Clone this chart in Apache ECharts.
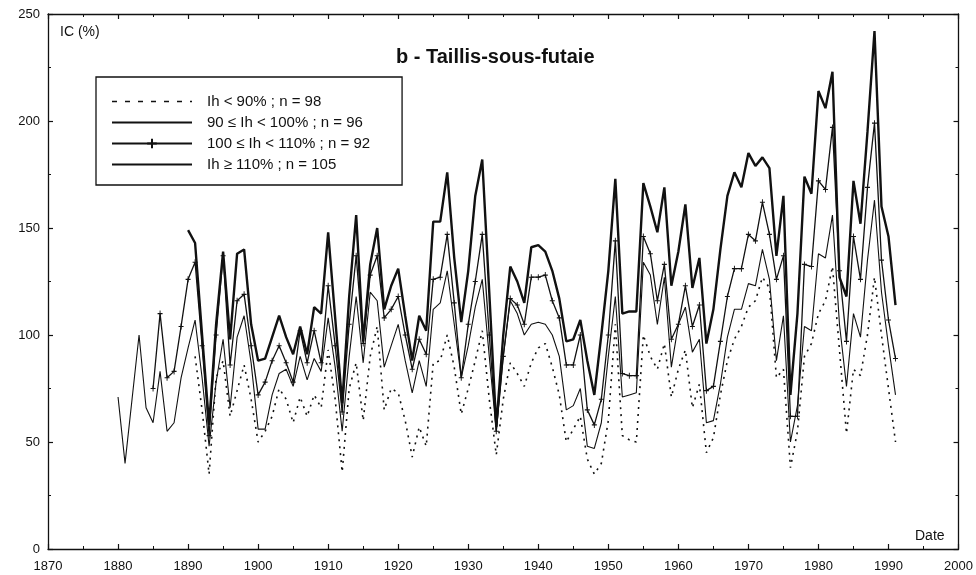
<!DOCTYPE html>
<html>
<head>
<meta charset="utf-8">
<script src="https://cdn.jsdelivr.net/npm/echarts@6/dist/echarts.min.js"></script>
<style>
html,body{margin:0;padding:0;background:#fff;}
#c{width:976px;height:575px;}
</style>
</head>
<body>
<div id="c"></div>
<script>
// Ih < 90% ; n = 98 (dotted) — from 1891
const startD = 1891;
const valuesD = [90,65,35,80,88,62,74,86,70,
 50,55,62,75,70,59,71,62,72,66,
 93,70,36,75,87,60,90,104,65,75,
 73,60,43,57,48,87,88,100,85,63,
 75,88,102,70,44,70,87,82,76,87,
 94,96,85,72,50,56,62,42,35,40,
 60,105,53,51,50,100,90,84,96,71,
 84,93,66,77,45,52,72,88,98,104,
 113,116,127,122,80,84,38,55,90,96,
 110,116,132,93,54,84,81,100,127,100,
 75,50];
// 90 ≤ Ih < 100% ; n = 96 (thin) — from 1880
const startS = 1880;
const valuesS = [71,40,70,100,66,59,83,55,59,80,
 94,107,80,48,78,98,66,99,109,87,
 56,56,72,82,84,76,90,79,89,83,
 108,85,55,90,118,87,120,116,85,95,
 105,88,73,88,76,112,115,130,105,80,
 95,113,126,90,55,90,116,110,100,105,
 106,105,100,90,65,67,75,48,47,59,
 90,118,71,72,73,134,128,105,127,85,
 105,113,92,98,59,60,77,99,112,112,
 124,123,140,126,88,109,50,67,104,102,
 138,136,156,105,76,110,99,135,163,120,
 95,72];
// 100 ≤ Ih < 110% ; n = 92 (with ticks) — from 1885
const startP = 1885;
const valuesP = [75,110,80,83,104,
 126,134,95,53,100,137,86,116,119,95,
 72,78,88,95,87,78,102,87,102,87,
 123,95,64,105,137,96,128,137,108,112,
 118,100,84,98,91,126,127,147,115,80,
 105,125,147,100,55,90,117,114,105,127,
 127,128,116,108,86,86,100,65,58,70,
 100,144,82,81,81,146,138,116,133,98,
 105,123,104,114,74,76,97,118,131,131,
 147,144,162,147,126,137,62,62,133,132,
 172,168,197,130,97,146,126,169,199,135,
 107,89];
// Ih ≥ 110% ; n = 105 (thick) — from 1890
const startT = 1890;
const valuesT = [149,143,100,58,105,139,98,138,140,105,
 88,89,99,109,99,91,104,91,113,110,
 148,108,68,118,156,97,133,150,112,123,
 131,109,88,109,102,153,153,176,136,106,
 130,165,182,120,57,100,132,125,115,141,
 142,139,130,117,97,98,107,88,72,100,
 130,173,110,111,111,171,160,148,169,123,
 139,161,122,136,96,112,140,165,176,169,
 185,179,183,178,137,165,72,110,174,166,
 214,206,223,127,118,172,152,195,242,160,
 146,114];

const seriesNames = ['Ih < 90% ; n = 98','90 ≤ Ih < 100% ; n = 96','100 ≤ Ih < 110% ; n = 92','Ih ≥ 110% ; n = 105'];
const xTicks = {min:1870, max:2000, step:10};
const yTicks = {min:0, max:250, step:50};

function pairs(start, vals){ return vals.map((v,i)=>[start+i, v]); }

const FONT = '"Liberation Sans", Arial, sans-serif';
const INK = '#111';
const HIDDEN = {color:'rgba(0,0,0,0)', borderColor:'rgba(0,0,0,0)', borderWidth:0};

const chart = echarts.init(document.getElementById('c'), null, {renderer:'canvas'});
const axisCommon = {
  axisLine:{show:true, onZero:false, lineStyle:{color:INK, width:1.3}},
  axisTick:{show:true, inside:true, length:5, lineStyle:{color:INK, width:1.2}},
  minorTick:{show:true, splitNumber:2, length:3, lineStyle:{color:INK, width:1}},
  splitLine:{show:false}
};
chart.setOption({
  animation:false,
  backgroundColor:'#fff',
  textStyle:{fontFamily:FONT},
  title:{
    text:'b - Taillis-sous-futaie',
    left:391, top:42,
    textStyle:{fontFamily:FONT, fontSize:20, fontWeight:'bold', color:INK}
  },
  grid:{left:48, right:15, top:14, bottom:26},
  legend:{
    orient:'vertical', left:96, top:77,
    data:[
      {name:seriesNames[0], lineStyle:{type:[5,8], width:1.3}},
      {name:seriesNames[1]},
      {name:seriesNames[2]},
      {name:seriesNames[3]}
    ],
    itemWidth:80, itemHeight:12, itemGap:6,
    padding:[17,32,13,15],
    borderColor:INK, borderWidth:1.3,
    backgroundColor:'#fff',
    selectedMode:false,
    textStyle:{fontFamily:FONT, fontSize:15, color:INK, padding:[0,0,0,10]}
  },
  xAxis:[
    Object.assign({type:'value', position:'bottom', min:xTicks.min, max:xTicks.max, interval:xTicks.step,
      axisLabel:{color:INK, fontSize:13, margin:11, fontFamily:FONT, formatter:(v)=>String(v)}}, axisCommon),
    Object.assign({type:'value', position:'top', min:xTicks.min, max:xTicks.max, interval:xTicks.step,
      axisLabel:{show:false}}, axisCommon)
  ],
  yAxis:[
    Object.assign({type:'value', position:'left', min:yTicks.min, max:yTicks.max, interval:yTicks.step,
      axisLabel:{color:INK, fontSize:13, margin:8, fontFamily:FONT, formatter:(v)=>String(v)}}, axisCommon),
    Object.assign({type:'value', position:'right', min:yTicks.min, max:yTicks.max, interval:yTicks.step,
      axisLabel:{show:false}}, axisCommon)
  ],
  graphic:[
    {type:'text', left:60, top:25, style:{text:'IC (%)', font:'14px '+FONT, fill:INK}},
    {type:'text', left:915, top:529, style:{text:'Date', font:'14px '+FONT, fill:INK}}
  ],
  series:[
    {name:seriesNames[0], type:'line', data:pairs(startD, valuesD), symbol:'circle', symbolSize:1, showSymbol:false, silent:true,
     lineStyle:{color:INK, width:1.6, type:[2,5]}, itemStyle:HIDDEN},
    {name:seriesNames[1], type:'line', data:pairs(startS, valuesS), symbol:'circle', symbolSize:1, showSymbol:false, silent:true,
     lineStyle:{color:INK, width:1.1}, itemStyle:HIDDEN},
    {name:seriesNames[2], type:'line', data:pairs(startP, valuesP), silent:true,
     symbol:'path://M0,5L10,5M5,0L5,10', symbolSize:[5,6], showSymbol:true, showAllSymbol:true,
     lineStyle:{color:INK, width:1.3}, itemStyle:{color:'rgba(0,0,0,0)', borderColor:INK, borderWidth:1}},
    {name:seriesNames[3], type:'line', data:pairs(startT, valuesT), symbol:'circle', symbolSize:1, showSymbol:false, silent:true,
     lineStyle:{color:INK, width:2.4}, itemStyle:HIDDEN}
  ]
});
</script>
</body>
</html>
